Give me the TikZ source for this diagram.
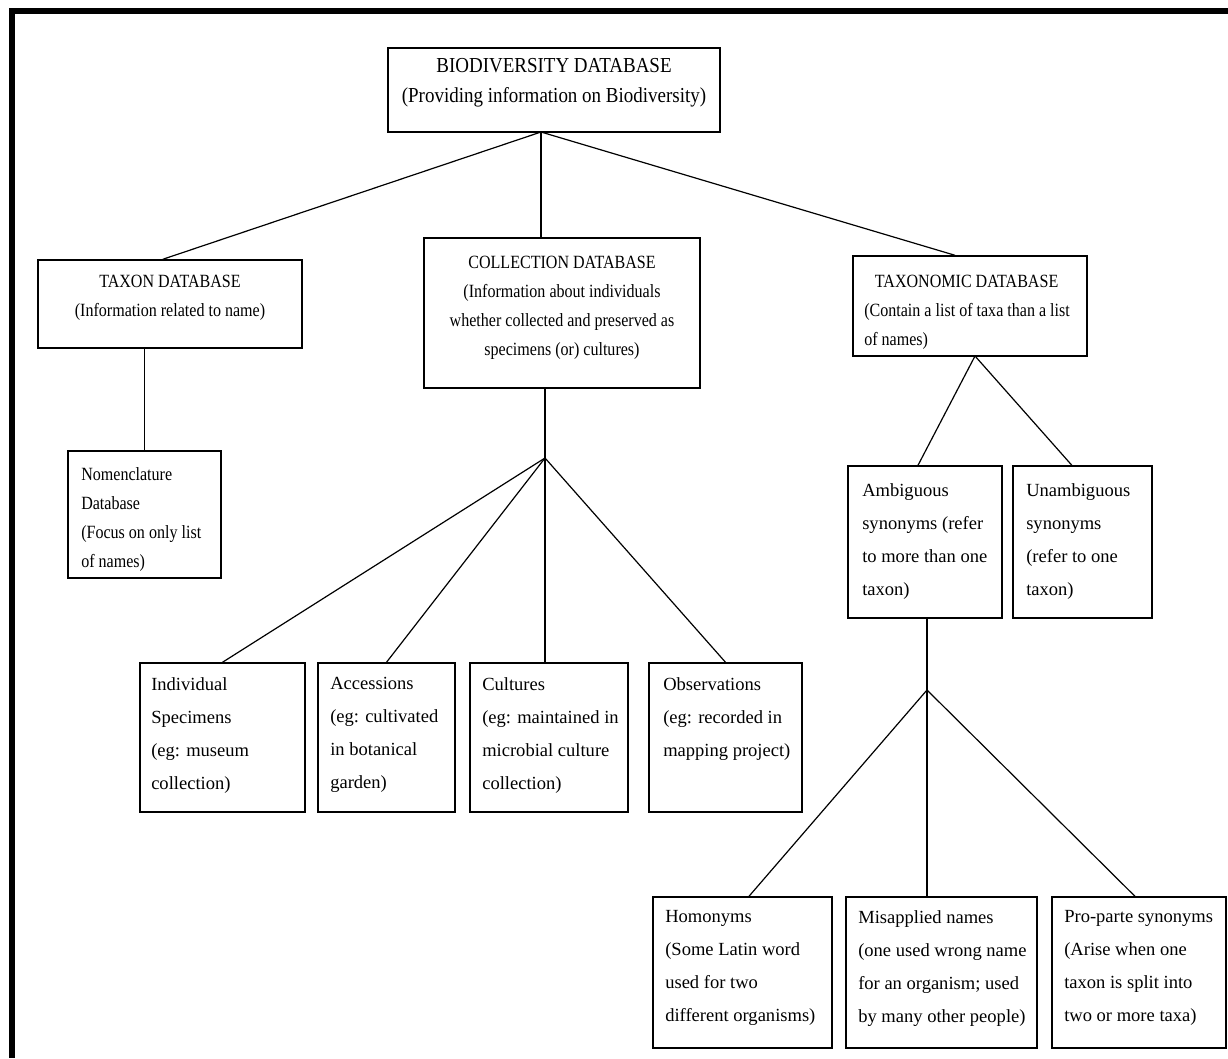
\documentclass[tikz,border=0pt]{standalone}
\usepackage{fontspec}
\setmainfont{Liberation Serif}
\newfontfamily\condfont{Liberation Serif}[FakeStretch=0.86]
\newfontfamily\rootfont{Liberation Serif}[FakeStretch=0.89]
\usepackage{tikz}
\usetikzlibrary{fit, calc}

\tikzset{
  dbbox/.style={draw, line width=1.1pt, inner sep=0pt},
  roottext/.style={font=\rootfont\fontsize{16}{22.5}\selectfont, align=center},
  uptext/.style={font=\condfont\fontsize{14}{21.75}\selectfont, align=center},
  lowtext/.style={font=\fontsize{13.9}{24.75}\selectfont, anchor=north west, inner sep=0.75pt, align=left},
  link/.style={line width=0.9pt}
}

\begin{document}
\begin{tikzpicture}[x=0.75pt,y=0.75pt,yscale=-1,xscale=1]
\useasboundingbox (0,0) rectangle (1228,1058);

%Frame: top and left bars
\fill (9,8) rectangle (1228,14);
\fill (9,8) rectangle (15,1058);

%Shape: top box
\node[dbbox, roottext, fit={(388,48) (720,132)}] (root) {BIODIVERSITY DATABASE\\(Providing information on Biodiversity)};

%Shape: second level
\node[dbbox, uptext, fit={(38,260) (302,348)}] (taxon) {TAXON DATABASE\\(Information related to name)};
\node[dbbox, uptext, fit={(424,238) (700,388)}] (coll) {};
\node[dbbox, fit={(853,256) (1087,356)}] (taxo) {};
\node[dbbox, fit={(68,451) (221,578)}] (nomen) {};

%Shape: collection children
\node[dbbox, fit={(140,663) (305,812)}] (indiv) {};
\node[dbbox, fit={(318,663) (455,812)}] (access) {};
\node[dbbox, fit={(470,663) (628,812)}] (cult) {};
\node[dbbox, fit={(649,663) (802,812)}] (obsv) {};

%Shape: synonym boxes
\node[dbbox, fit={(848,466) (1002,618)}] (ambig) {};
\node[dbbox, fit={(1013,466) (1152,618)}] (unamb) {};
\node[dbbox, fit={(653,897) (832,1048)}] (homo) {};
\node[dbbox, fit={(846,897) (1037,1048)}] (misap) {};
\node[dbbox, fit={(1052,897) (1226,1048)}] (propa) {};

% Text Node
\node[uptext, inner sep=0.75pt] (coll-t) at (562,308) {COLLECTION DATABASE\\(Information about individuals\\whether collected and preserved as\\specimens (or) cultures)};
% Text Node
\node[uptext, anchor=north west, inner sep=0.75pt, align=left] (taxo-t) at (863,274) {\hspace*{8pt}TAXONOMIC DATABASE\\(Contain a list of taxa than a list\\of names)};
% Text Node
\node[uptext, anchor=north west, inner sep=0.75pt, align=left] (nomen-t) at (80,466) {Nomenclature\\Database\\(Focus on only list\\of names)};

% Text Node
\node[lowtext] (indiv-t) at (150,676) {Individual\\Specimens\\(eg: museum\\collection)};
\node[lowtext] (access-t) at (329,676) {Accessions\\(eg: cultivated\\in botanical\\garden)};
\node[lowtext] (cult-t) at (481,676) {Cultures\\(eg: maintained in\\microbial culture\\collection)};
\node[lowtext] (obsv-t) at (662,676) {Observations\\(eg: recorded in\\mapping project)};

% Text Node
\node[lowtext] (ambig-t) at (861,482) {Ambiguous\\synonyms (refer\\to more than one\\taxon)};
\node[lowtext] (unamb-t) at (1025,482) {Unambiguous\\synonyms\\(refer to one\\taxon)};

% Text Node
\node[lowtext] (homo-t) at (664,909) {Homonyms\\(Some Latin word\\used for two\\different organisms)};
\node[lowtext] (misap-t) at (857,909) {Misapplied names\\(one used wrong name\\for an organism; used\\by many other people)};
\node[lowtext] (propa-t) at (1063,909) {Pro-parte synonyms\\(Arise when one\\taxon is split into\\two or more taxa)};

%Straight Lines: from the top box
\coordinate (roothub) at (541,132);
\draw[link] (roothub) -- ($(taxon.north west)!0.473!(taxon.north east)$);
\draw[link] (roothub) -- (roothub |- coll.north);
\draw[link] (roothub) -- ($(taxo.north west)!0.436!(taxo.north east)$);

%Straight Lines: taxon to nomenclature
\draw[link] (taxon.south -| nomen.north) -- (nomen.north);

%Straight Lines: collection fan
\coordinate (collhub) at (545,458);
\draw[link] (coll.south -| collhub) -- (collhub);
\draw[link] (collhub) -- (indiv.north);
\draw[link] (collhub) -- (access.north);
\draw[link] (collhub) -- (collhub |- cult.north);
\draw[link] (collhub) -- (obsv.north);

%Straight Lines: taxonomic fan
\coordinate (taxohub) at (975,356);
\draw[link] (taxohub) -- ($(ambig.north west)!0.455!(ambig.north east)$);
\draw[link] (taxohub) -- ($(unamb.north west)!0.424!(unamb.north east)$);

%Straight Lines: ambiguous fan
\coordinate (ambhub) at (927,690);
\draw[link] (ambig.south -| ambhub) -- (ambhub);
\draw[link] (ambhub) -- ($(homo.north west)!0.536!(homo.north east)$);
\draw[link] (ambhub) -- (ambhub |- misap.north);
\draw[link] (ambhub) -- ($(propa.north west)!0.477!(propa.north east)$);
\end{tikzpicture}
\end{document}
